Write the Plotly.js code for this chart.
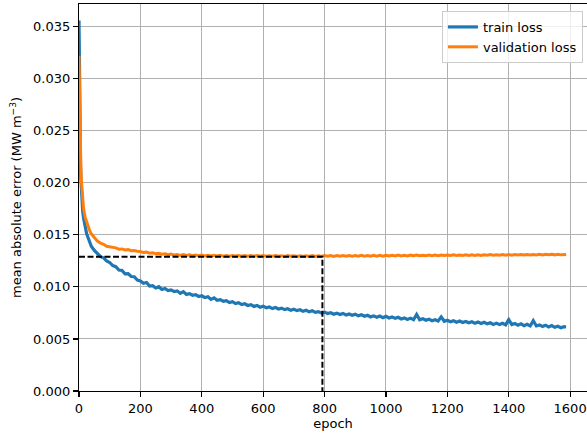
<!DOCTYPE html>
<html>
<head>
<meta charset="utf-8">
<script src="https://cdn.plot.ly/plotly-3.0.1.min.js"></script>
<style>html,body{margin:0;padding:0;background:#fff;}#chart{width:587px;height:439px;}</style>
</head>
<body>
<div id="chart"></div>
<script>
const epochs = [0,1,2,3,4,5,6,8,10,12,15,20,25,30,35,40,50,60,70,80,90,
100,110,120,130,140,150,160,170,180,190,
200,210,220,230,240,250,260,270,280,290,
300,310,320,330,340,350,360,370,380,390,
400,410,420,430,440,450,460,470,480,490,
500,510,520,530,540,550,560,570,580,590,
600,610,620,630,640,650,660,670,680,690,
700,710,720,730,740,750,760,770,780,790,
800,810,820,830,840,850,860,870,880,890,
900,910,920,930,940,950,960,970,980,990,
1000,1010,1020,1030,1040,1050,1060,1070,1080,1090,
1100,1110,1120,1130,1140,1150,1160,1170,1180,1190,
1200,1210,1220,1230,1240,1250,1260,1270,1280,1290,
1300,1310,1320,1330,1340,1350,1360,1370,1380,1390,
1400,1410,1420,1430,1440,1450,1460,1470,1480,1490,
1500,1510,1520,1530,1540,1550,1560,1570,1580,1587];

const trainLoss = [0.0356,0.0310,0.0276,0.0251,0.0232,0.0217,0.0205,0.0190,0.0180,0.0173,0.0166,0.0158,0.0151,0.0147,0.0142,0.0139,0.0135,0.0132,0.0129,0.0128,0.0125,
0.01235,0.01205,0.01195,0.01162,0.01158,0.01125,0.01128,0.01100,0.01098,0.01065,
0.01058,0.01035,0.01042,0.01008,0.01012,0.00990,0.01002,0.00975,0.00985,0.00965,
0.00972,0.00955,0.00962,0.00938,0.00955,0.00928,0.00935,0.00920,0.00925,0.00908,
0.00915,0.00898,0.00905,0.00880,0.00895,0.00872,0.00878,0.00862,0.00868,0.00850,
0.00858,0.00840,0.00848,0.00830,0.00838,0.00822,0.00830,0.00812,0.00822,0.00805,
0.00815,0.00800,0.00808,0.00792,0.00802,0.00788,0.00796,0.00782,0.00790,0.00775,
0.00785,0.00772,0.00780,0.00765,0.00775,0.00760,0.00770,0.00755,0.00762,0.00748,
0.00758,0.00745,0.00752,0.00738,0.00748,0.00735,0.00745,0.00730,0.00740,0.00728,
0.00738,0.00722,0.00732,0.00718,0.00728,0.00712,0.00722,0.00708,0.00720,0.00705,
0.00718,0.00702,0.00712,0.00698,0.00708,0.00692,0.00702,0.00688,0.00700,0.00685,
0.00735,0.00685,0.00695,0.00680,0.00690,0.00675,0.00685,0.00672,0.00712,0.00670,
0.00680,0.00665,0.00675,0.00660,0.00672,0.00658,0.00668,0.00655,0.00665,0.00650,
0.00662,0.00648,0.00660,0.00645,0.00655,0.00640,0.00652,0.00638,0.00650,0.00635,
0.00685,0.00638,0.00648,0.00632,0.00645,0.00628,0.00640,0.00625,0.00675,0.00625,
0.00635,0.00620,0.00632,0.00615,0.00628,0.00612,0.00622,0.00608,0.00618,0.00615];

const valLoss = [0.0322,0.0292,0.0268,0.0250,0.0236,0.0225,0.0216,0.0201,0.0191,0.0183,0.0175,0.0167,0.0162,0.0157,0.0154,0.0151,0.0147,0.0144,0.0142,0.0141,0.0139,
0.01385,0.01375,0.01375,0.01362,0.01365,0.01355,0.01358,0.01348,0.01350,0.01342,
0.01340,0.01330,0.01334,0.01324,0.01328,0.01318,0.01322,0.01314,0.01318,0.01310,
0.01315,0.01306,0.01312,0.01303,0.01310,0.01302,0.01308,0.01300,0.01306,0.01299,
0.01305,0.01298,0.01304,0.01297,0.01303,0.01297,0.01303,0.01296,0.01302,0.01296,
0.01302,0.01296,0.01301,0.01295,0.01302,0.01295,0.01301,0.01294,0.01301,0.01295,
0.01301,0.01294,0.01300,0.01294,0.01301,0.01294,0.01300,0.01293,0.01301,0.01294,
0.01300,0.01293,0.01300,0.01293,0.01300,0.01293,0.01301,0.01292,0.01300,0.01292,
0.01301,0.01294,0.01301,0.01293,0.01302,0.01294,0.01301,0.01294,0.01302,0.01295,
0.01302,0.01295,0.01303,0.01296,0.01302,0.01295,0.01303,0.01296,0.01303,0.01296,
0.01304,0.01297,0.01304,0.01297,0.01305,0.01298,0.01304,0.01298,0.01305,0.01299,
0.01306,0.01299,0.01305,0.01300,0.01306,0.01300,0.01307,0.01300,0.01306,0.01301,
0.01307,0.01301,0.01308,0.01302,0.01307,0.01302,0.01308,0.01302,0.01308,0.01303,
0.01309,0.01303,0.01309,0.01304,0.01310,0.01304,0.01309,0.01304,0.01310,0.01305,
0.01311,0.01305,0.01311,0.01306,0.01311,0.01306,0.01312,0.01306,0.01312,0.01307,
0.01313,0.01307,0.01313,0.01308,0.01313,0.01308,0.01314,0.01308,0.01314,0.01312];

const bestEpoch = 793;
const bestVal = 0.0129;
const xTicks = [0,200,400,600,800,1000,1200,1400,1600];
const yTicks = [0.000,0.005,0.010,0.015,0.020,0.025,0.030,0.035];
const yTickText = ["0.000","0.005","0.010","0.015","0.020","0.025","0.030","0.035"];

const font = {family: "DejaVu Sans, sans-serif", size: 13, color: "#000"};

const traces = [
  {x: epochs, y: trainLoss, type: "scatter", mode: "lines", name: "train loss",
   line: {color: "#1f77b4", width: 3.2}},
  {x: epochs, y: valLoss, type: "scatter", mode: "lines", name: "validation loss",
   line: {color: "#ff7f0e", width: 3}},
  {x: [0, bestEpoch, bestEpoch], y: [bestVal, bestVal, 0], type: "scatter", mode: "lines",
   showlegend: false, hoverinfo: "skip",
   line: {color: "#000", width: 2, dash: "6px,2.5px"}}
];

const layout = {
  width: 587, height: 439,
  margin: {l: 79, r: 0, t: 4, b: 48},
  paper_bgcolor: "#fff", plot_bgcolor: "#fff",
  font: font,
  showlegend: true,
  legend: {x: 0.992, y: 0.982, xanchor: "right", yanchor: "top",
    bgcolor: "rgba(255,255,255,0.8)", bordercolor: "#cccccc", borderwidth: 1,
    font: font, itemwidth: 30, tracegroupgap: 0},
  xaxis: {range: [0, 1655], tickvals: xTicks, ticktext: xTicks.map(String),
    showgrid: true, gridcolor: "#b0b0b0", gridwidth: 1,
    showline: true, linecolor: "#000", linewidth: 1.1, mirror: true,
    ticks: "outside", ticklen: 5, tickwidth: 1.1, tickcolor: "#000",
    zeroline: false, tickfont: font,
    title: {text: "epoch", font: font, standoff: 4}},
  yaxis: {range: [0, 0.03718], tickvals: yTicks, ticktext: yTickText,
    showgrid: true, gridcolor: "#b0b0b0", gridwidth: 1,
    showline: true, linecolor: "#000", linewidth: 1.1,
    ticks: "outside", ticklen: 5, tickwidth: 1.1, tickcolor: "#000",
    zeroline: false, tickfont: font,
    title: {text: "mean absolute error (MW m<sup>−3</sup>)", font: font, standoff: 8}}
};

Plotly.newPlot("chart", traces, layout, {displayModeBar: false, staticPlot: true});
</script>
</body>
</html>
